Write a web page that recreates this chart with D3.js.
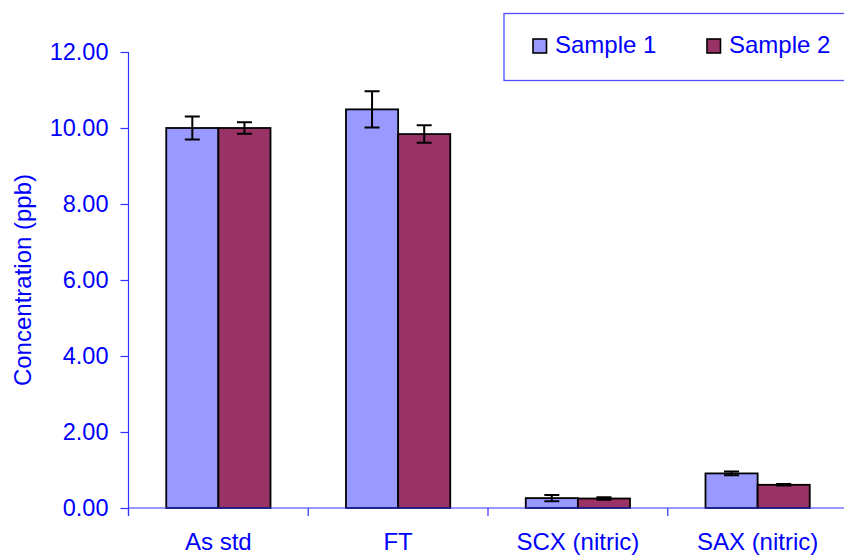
<!DOCTYPE html>
<html>
<head>
<meta charset="utf-8">
<script src="https://cdn.jsdelivr.net/npm/d3@7"></script>
<style>
  html, body { margin: 0; padding: 0; background: #fff; }
  svg { display: block; font-family: "Liberation Sans", Arial, sans-serif; }
</style>
</head>
<body>
<svg id="chart" width="844" height="558"></svg>
<script>
const categories = ["As std", "FT", "SCX (nitric)", "SAX (nitric)"];
const seriesNames = ["Sample 1", "Sample 2"];
const sample1 = [10.0, 10.49, 0.26, 0.91];
const sample1Err = [0.30, 0.48, 0.08, 0.05];
const sample2 = [10.0, 9.84, 0.25, 0.61];
const sample2Err = [0.15, 0.23, 0.03, 0.02];
const yTicks = [0, 2, 4, 6, 8, 10, 12];
const colors = ["#9999ff", "#993366"];

const svg = d3.select("#chart");
const W = 844, H = 558;
const plot = { left: 128.5, right: 847.5, top: 52, bottom: 508 };
const textColor = "#0000ff";
const axisColor = "#3333ff";

const y = d3.scaleLinear().domain([0, 12]).range([plot.bottom, plot.top]);
const x0 = d3.scaleBand().domain(categories).range([plot.left, plot.right]).padding(0);
const groupFrac = 0.58;
const bw = x0.bandwidth();
const x1 = d3.scaleBand().domain(seriesNames)
  .range([bw * (1 - groupFrac) / 2, bw * (1 + groupFrac) / 2]).padding(0);

const data = categories.map((c, i) => ({
  cat: c,
  vals: [
    { s: seriesNames[0], v: sample1[i], e: sample1Err[i], c: colors[0] },
    { s: seriesNames[1], v: sample2[i], e: sample2Err[i], c: colors[1] }
  ]
}));

// Y axis
const yAxis = d3.axisLeft(y).tickValues(yTicks).tickFormat(d3.format(".2f")).tickSize(8).tickPadding(12);
const gy = svg.append("g").attr("transform", `translate(${plot.left},0)`).call(yAxis);
gy.select(".domain").attr("stroke", axisColor).attr("stroke-width", 1.2)
  .attr("d", `M0,${plot.top}V${plot.bottom + 8}`);
gy.selectAll(".tick line").attr("stroke", axisColor).attr("stroke-width", 1.2);
gy.selectAll(".tick text").attr("fill", textColor).attr("font-size", 23.5)
  .attr("font-family", "Liberation Sans, Arial, sans-serif");

// Bars
const groups = svg.append("g").selectAll("g").data(data).join("g")
  .attr("transform", d => `translate(${x0(d.cat)},0)`);
groups.selectAll("rect").data(d => d.vals).join("rect")
  .attr("x", d => x1(d.s))
  .attr("y", d => y(d.v))
  .attr("width", x1.bandwidth())
  .attr("height", d => y(0) - y(d.v))
  .attr("fill", d => d.c)
  .attr("stroke", "#000")
  .attr("stroke-width", 1.8);

// Error bars
const capW = 15;
groups.selectAll("path.err").data(d => d.vals).join("path")
  .attr("class", "err")
  .attr("fill", "none").attr("stroke", "#000").attr("stroke-width", 2)
  .attr("d", d => {
    const cx = x1(d.s) + x1.bandwidth() / 2;
    const t = y(d.v + d.e), b = y(d.v - d.e);
    return `M${cx - capW / 2},${t}H${cx + capW / 2}M${cx},${t}V${b}M${cx - capW / 2},${b}H${cx + capW / 2}`;
  });

// X axis
const xa = svg.append("g");
xa.append("line").attr("x1", plot.left).attr("x2", W).attr("y1", plot.bottom).attr("y2", plot.bottom)
  .attr("stroke", axisColor).attr("stroke-width", 1.2);
const boundaries = categories.map(c => x0(c)).concat([x0(categories[categories.length - 1]) + bw]);
xa.selectAll("line.bt").data(boundaries).join("line").attr("class", "bt")
  .attr("x1", d => d).attr("x2", d => d)
  .attr("y1", plot.bottom).attr("y2", plot.bottom + 8)
  .attr("stroke", axisColor).attr("stroke-width", 1.2);
xa.selectAll("text").data(categories).join("text")
  .attr("x", d => x0(d) + bw / 2)
  .attr("y", 550)
  .attr("text-anchor", "middle")
  .attr("fill", textColor)
  .attr("font-size", 24)
  .text(d => d);

// Y title
svg.append("text")
  .attr("transform", `translate(31,${(plot.top + plot.bottom) / 2}) rotate(-90)`)
  .attr("text-anchor", "middle")
  .attr("fill", textColor)
  .attr("font-size", 24)
  .text("Concentration (ppb)");

// Legend
const lg = svg.append("g");
lg.append("rect").attr("x", 504).attr("y", 13.5).attr("width", 360).attr("height", 67)
  .attr("fill", "#fff").attr("stroke", "#4d4dff").attr("stroke-width", 1.3);
const legendX = [533, 707];
const li = lg.selectAll("g").data(seriesNames).join("g")
  .attr("transform", (d, i) => `translate(${legendX[i]},39)`);
li.append("rect").attr("width", 13.5).attr("height", 14)
  .attr("fill", (d, i) => colors[i]).attr("stroke", "#000").attr("stroke-width", 1.6);
li.append("text").attr("x", 22).attr("y", 13.5).attr("fill", textColor).attr("font-size", 24).text(d => d);
</script>
</body>
</html>
